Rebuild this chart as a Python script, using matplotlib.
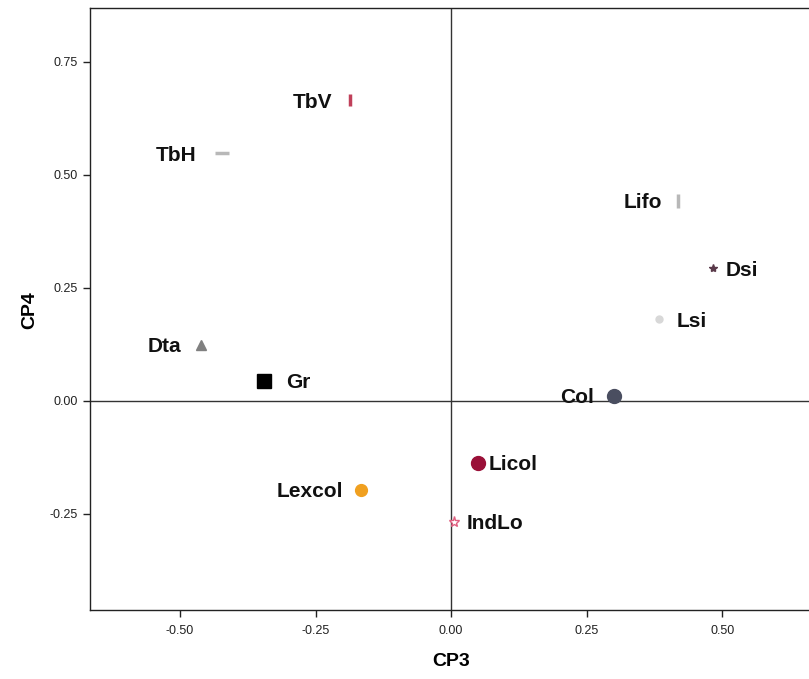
import matplotlib
matplotlib.use("Agg")
import matplotlib.pyplot as plt

plt.rcParams['font.family'] = ['Liberation Sans', 'DejaVu Sans']

labels = ["TbV", "TbH", "Dta", "Gr", "Lifo", "Dsi", "Lsi", "Col", "Licol", "Lexcol", "IndLo"]
cp3 = [-0.186, -0.423, -0.461, -0.345, 0.419, 0.483, 0.384, 0.301, 0.050, -0.166, 0.006]
cp4 = [0.665, 0.548, 0.124, 0.044, 0.443, 0.293, 0.180, 0.011, -0.137, -0.197, -0.268]
xticks = [-0.50, -0.25, 0.00, 0.25, 0.50]
yticks = [-0.25, 0.00, 0.25, 0.50, 0.75]

markers = ["|", "_", "^", "s", "|", "*", "o", "o", "o", "o", "*"]
sizes = [8, 10, 7, 10, 10, 6, 5, 10, 10, 8.5, 8]
faces = ["#c0405a", "#b8b8b8", "#808080", "#000000", "#b8b8b8", "#5a3a4a",
         "#d8d8d8", "#4a4e60", "#9a1038", "#f0a020", "#ffffff"]
edges = ["#c0405a", "#b8b8b8", "#808080", "#000000", "#b8b8b8", "#5a3a4a",
         "#d8d8d8", "#4a4e60", "#9a1038", "#f0a020", "#e06080"]
# label gap from marker centre, in pixels (negative = label on the left)
gaps = [-18, -25, -20, 22, -16, 13, 17, -20, 10, -18, 12]

fig = plt.figure(figsize=(8.09, 6.79), dpi=100)
ax = fig.add_axes([0.1112, 0.1016, 0.8888, 0.8864])

ax.axvline(0, color="#333333", lw=1.0, zorder=1)
ax.axhline(0, color="#333333", lw=1.0, zorder=1)

for lab, x, y, m, s, fc, ec, g in zip(labels, cp3, cp4, markers, sizes, faces, edges, gaps):
    mew = 2.5 if m in ("|", "_") else 1.0
    ax.plot([x], [y], marker=m, markersize=s, markerfacecolor=fc, markeredgecolor=ec,
            markeredgewidth=mew, linestyle="none", zorder=3)
    ax.annotate(lab, (x, y), xytext=(g * 0.72, 0), textcoords="offset points",
                ha="right" if g < 0 else "left", va="center_baseline",
                fontsize=15, fontweight="bold", color="#111111")

ax.set_xlim(-0.666, 0.660)
ax.set_ylim(-0.463, 0.869)
ax.set_xticks(xticks)
ax.set_yticks(yticks)
ax.set_xticklabels([f"{v:.2f}" for v in xticks])
ax.set_yticklabels([f"{v:.2f}" for v in yticks])
ax.tick_params(axis="both", direction="out", length=5, width=1, labelsize=9, colors="#222222")
ax.tick_params(axis="x", pad=6)
ax.spines["right"].set_visible(False)
for sp in ["left", "bottom", "top"]:
    ax.spines[sp].set_color("#222222")
    ax.spines[sp].set_linewidth(1.0)

ax.set_xlabel("CP3", fontsize=14, fontweight="bold")
ax.set_ylabel("CP4", fontsize=14, fontweight="bold")
ax.xaxis.set_label_coords((451 - 90) / 719, -(653 - 610) / 601.8, transform=ax.transAxes)
ax.yaxis.set_label_coords(-(90 - 38) / 719, (610 - 310) / 601.8, transform=ax.transAxes)

fig.savefig("out.png", dpi=100)
